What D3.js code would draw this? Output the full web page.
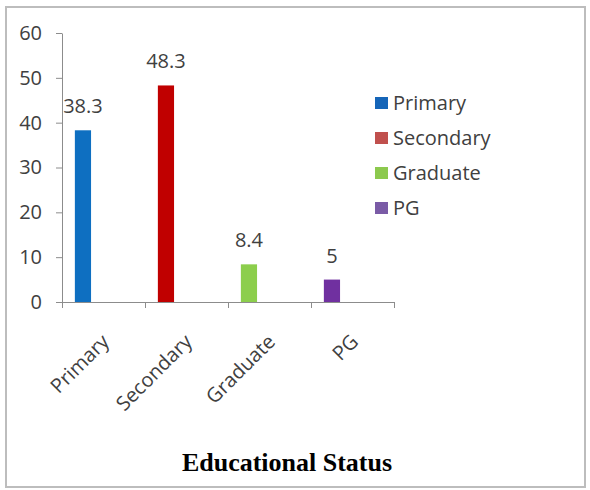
<!DOCTYPE html>
<html lang="en">
<head>
    <meta charset="UTF-8">
    <title>Educational Status</title>
    <script src="https://d3js.org/d3.v7.min.js"></script>
    <style>
        body {margin: 0; background: #fff;}
        text {font-family: "Open Sans", sans-serif; fill: #404040;}
        .axis path, .axis line {stroke: #8c8c8c;}
        .title {font-family: "Liberation Serif", "Times New Roman", serif; font-weight: bold; fill: #000;}
    </style>
</head>
<body>
<script>
    const width  = 590;
    const height = 490;

    const categories = ["Primary", "Secondary", "Graduate", "PG"];
    const values     = [38.3, 48.3, 8.4, 5];
    const colors     = ["#0e6fc1", "#c00000", "#8cce4c", "#7030a0"];
    const legendColors = ["#1565b8", "#c0504d", "#8cc94e", "#7a5ba6"];
    const yTicks     = [0, 10, 20, 30, 40, 50, 60];

    const svg = d3.select("body").append("svg").attr("width", width).attr("height", height);

    // outer frame
    svg.append("rect")
        .attr("x", 6).attr("y", 7)
        .attr("width", 579).attr("height", 480)
        .attr("fill", "#fff").attr("stroke", "#bdbdbd").attr("stroke-width", 2);

    const x = d3.scaleBand().domain(categories).range([62, 394]);
    const xEdges = d3.scaleLinear().domain([0, categories.length]).range([62, 394]);
    const y = d3.scaleLinear().domain([0, 60]).range([302, 33]);

    // bars sit left of the band centre
    const barOff = x.bandwidth() * 0.155;
    const barW = x.bandwidth() * 0.195;

    svg.selectAll("rect.bar").data(values).join("rect")
        .attr("class", "bar")
        .attr("x", (d, i) => x(categories[i]) + barOff)
        .attr("width", barW)
        .attr("y", d => y(d))
        .attr("height", d => y(0) - y(d))
        .attr("fill", (d, i) => colors[i]);

    svg.selectAll("text.val").data(values).join("text")
        .attr("class", "val")
        .attr("x", (d, i) => x(categories[i]) + barOff + barW / 2)
        .attr("y", d => y(d) - 17)
        .attr("text-anchor", "middle")
        .attr("font-size", 20)
        .text(d => d);

    // y axis
    const yAxis = svg.append("g").attr("class", "axis")
        .attr("transform", "translate(62,0)")
        .call(d3.axisLeft(y).tickValues(yTicks).tickSize(6).tickPadding(14).tickSizeOuter(0));
    yAxis.selectAll("text").attr("font-size", 20).style("font-family", "Open Sans").attr("fill", "#404040");

    // x axis: ticks on category boundaries
    svg.append("g").attr("class", "axis")
        .attr("transform", "translate(0,302)")
        .call(d3.axisBottom(xEdges).ticks(categories.length).tickFormat("").tickSize(6).tickSizeOuter(0));

    svg.append("g")
        .attr("transform", "translate(0,302)")
        .call(d3.axisBottom(x).tickSize(0).tickPadding(0))
        .call(g => g.select(".domain").remove())
        .selectAll("text")
        .attr("font-size", 20)
        .style("font-family", "Open Sans")
        .attr("fill", "#404040")
        .attr("text-anchor", "end")
        .attr("transform", "translate(2,36) rotate(-45)")
        .attr("dy", "0.35em")
        .attr("y", 0);

    // legend
    const legend = svg.append("g").attr("transform", "translate(375,103)");
    const item = legend.selectAll("g").data(categories).join("g")
        .attr("transform", (d, i) => `translate(0,${i * 35})`);
    item.append("rect")
        .attr("x", 0).attr("y", -6)
        .attr("width", 13).attr("height", 12)
        .attr("fill", (d, i) => legendColors[i]);
    item.append("text")
        .attr("x", 18).attr("dy", "0.35em")
        .attr("font-size", 20)
        .text(d => d);

    svg.append("text")
        .attr("class", "title")
        .attr("x", 287).attr("y", 471)
        .attr("text-anchor", "middle")
        .attr("font-size", 26)
        .text("Educational Status");
</script>
</body>
</html>
